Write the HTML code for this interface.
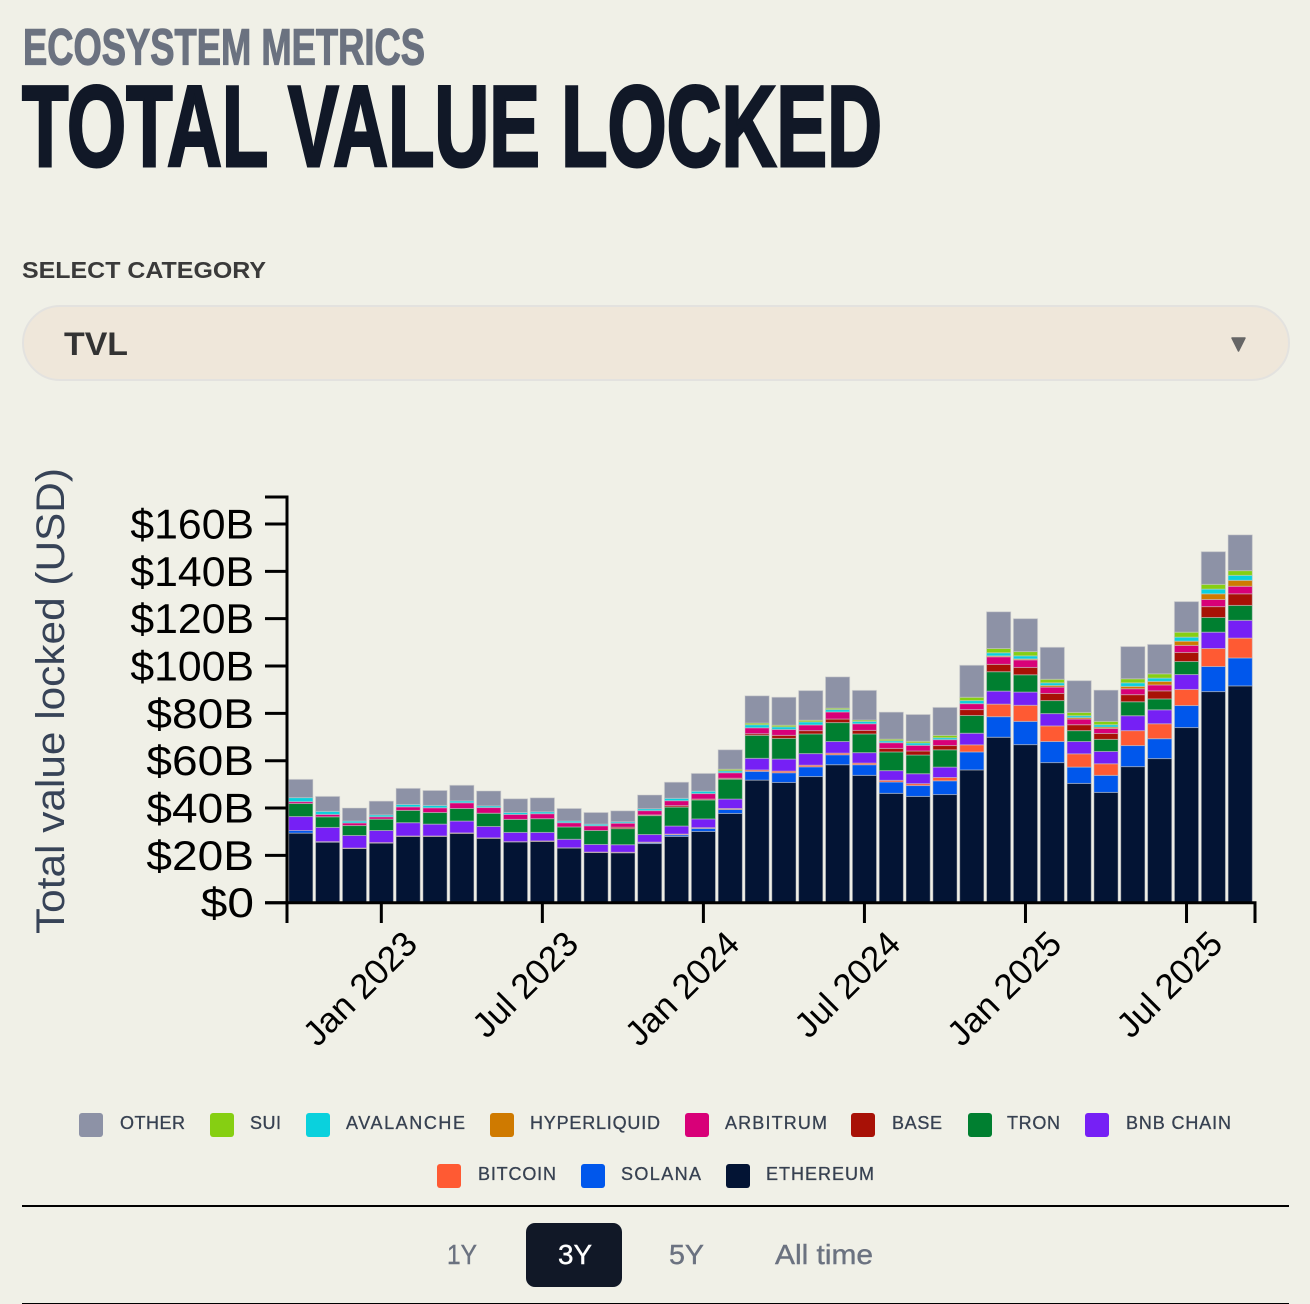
<!DOCTYPE html>
<html lang="en">
<head>
<meta charset="utf-8">
<title>Total Value Locked</title>
<style>
html,body{margin:0;padding:0;background:#f0f0e7;}
body{width:1310px;height:1304px;overflow:hidden;font-family:"Liberation Sans",sans-serif;}
svg{display:block;font-family:"Liberation Sans",sans-serif;}
.legend-label{font-size:18px;fill:#374151;stroke:#374151;stroke-width:.3px;}
.range{font-size:28px;fill:#6b7280;stroke:#6b7280;stroke-width:.4px;}
</style>
</head>
<body>
<svg id="page" width="1310" height="1304" viewBox="0 0 1310 1304" xmlns="http://www.w3.org/2000/svg">
  <text x="23" y="64.5" font-size="51" font-weight="700" fill="#6b7280" stroke="#6b7280" stroke-width="1.2" textLength="402" lengthAdjust="spacingAndGlyphs">ECOSYSTEM METRICS</text>
  <text x="22" y="166" font-size="115" font-weight="700" fill="#111827" stroke="#111827" stroke-width="3" textLength="860" lengthAdjust="spacingAndGlyphs">TOTAL VALUE LOCKED</text>

  <text x="22" y="278" font-size="23" font-weight="700" fill="#3a3a3a" textLength="244" lengthAdjust="spacingAndGlyphs">SELECT CATEGORY</text>
  <g>
    <rect x="23" y="306" width="1266" height="74" rx="37" ry="37" fill="#efe7da" stroke="#e3e2df" stroke-width="2"/>
    <text x="64" y="355" font-size="32" font-weight="700" fill="#333333" textLength="64" lengthAdjust="spacingAndGlyphs">TVL</text>
    <path d="M1232 338 H1245 L1238.5 351 Z" fill="#666666" stroke="#666666" stroke-width="1.5" stroke-linejoin="round"/>
  </g>

  <g id="chart"></g>
  <text transform="translate(64,934) rotate(-90)" font-size="40" fill="#374357" textLength="466" lengthAdjust="spacingAndGlyphs">Total value locked (USD)</text>

  <g>
    <g><rect x="79" y="1113" width="24" height="24" rx="3" fill="#8d92a6"/><text class="legend-label" x="120" y="1129" textLength="65" lengthAdjust="spacing">OTHER</text></g>
    <g><rect x="210" y="1113" width="24" height="24" rx="3" fill="#86cf12"/><text class="legend-label" x="250" y="1129" textLength="31" lengthAdjust="spacing">SUI</text></g>
    <g><rect x="306" y="1113" width="24" height="24" rx="3" fill="#0ad1dd"/><text class="legend-label" x="346" y="1129" textLength="119" lengthAdjust="spacing">AVALANCHE</text></g>
    <g><rect x="490" y="1113" width="24" height="24" rx="3" fill="#cf7a00"/><text class="legend-label" x="530" y="1129" textLength="130" lengthAdjust="spacing">HYPERLIQUID</text></g>
    <g><rect x="685" y="1113" width="24" height="24" rx="3" fill="#d80078"/><text class="legend-label" x="725" y="1129" textLength="102" lengthAdjust="spacing">ARBITRUM</text></g>
    <g><rect x="851" y="1113" width="24" height="24" rx="3" fill="#a81106"/><text class="legend-label" x="892" y="1129" textLength="50" lengthAdjust="spacing">BASE</text></g>
    <g><rect x="968" y="1113" width="24" height="24" rx="3" fill="#007f30"/><text class="legend-label" x="1007" y="1129" textLength="53" lengthAdjust="spacing">TRON</text></g>
    <g><rect x="1085" y="1113" width="24" height="24" rx="3" fill="#7620f5"/><text class="legend-label" x="1126" y="1129" textLength="105" lengthAdjust="spacing">BNB CHAIN</text></g>
    <g><rect x="437" y="1164" width="24" height="24" rx="3" fill="#ff5a33"/><text class="legend-label" x="478" y="1180" textLength="78" lengthAdjust="spacing">BITCOIN</text></g>
    <g><rect x="581" y="1164" width="24" height="24" rx="3" fill="#0057ec"/><text class="legend-label" x="621" y="1180" textLength="80" lengthAdjust="spacing">SOLANA</text></g>
    <g><rect x="726" y="1164" width="24" height="24" rx="3" fill="#031434"/><text class="legend-label" x="766" y="1180" textLength="108" lengthAdjust="spacing">ETHEREUM</text></g>
  </g>

  <rect x="22" y="1205" width="1267" height="2" fill="#000000"/>
  <g>
    <text class="range" x="447" y="1264" textLength="30" lengthAdjust="spacingAndGlyphs">1Y</text>
    <rect x="526" y="1223" width="96" height="64" rx="9" fill="#111827"/>
    <text class="range" style="fill:#ffffff;stroke:#ffffff" x="558" y="1264" textLength="34" lengthAdjust="spacingAndGlyphs">3Y</text>
    <text class="range" x="669" y="1264" textLength="35" lengthAdjust="spacingAndGlyphs">5Y</text>
    <text class="range" x="775" y="1264" textLength="98" lengthAdjust="spacingAndGlyphs">All time</text>
  </g>
  <rect x="22" y="1303" width="1267" height="1" fill="#000000"/>
</svg>
<script>
const categories = ["2022-10","2022-11","2022-12","2023-01","2023-02","2023-03","2023-04","2023-05","2023-06","2023-07","2023-08","2023-09","2023-10","2023-11","2023-12","2024-01","2024-02","2024-03","2024-04","2024-05","2024-06","2024-07","2024-08","2024-09","2024-10","2024-11","2024-12","2025-01","2025-02","2025-03","2025-04","2025-05","2025-06","2025-07","2025-08","2025-09"];
const ethereum = [29.4,25.6,22.9,25.2,28.0,28.0,29.3,27.2,25.7,25.9,23.1,21.2,21.1,25.0,28.0,30.1,37.7,51.8,50.8,53.3,58.3,53.8,46.2,44.9,45.7,56.1,69.9,66.8,59.2,50.4,46.6,57.5,60.9,74.0,89.2,91.6];
const solana = [1.1,0.1,0,0,0,0,0,0,0,0,0,0,0,0.4,0.7,1.3,1.7,3.7,4.1,4.1,4.2,4.5,4.8,4.6,5.8,7.6,8.7,9.8,8.9,6.9,7.2,8.9,8.4,9.3,10.6,11.8];
const bitcoin = [0,0.1,0.2,0.2,0.2,0.2,0.2,0.2,0.1,0.2,0.1,0.2,0.2,0.2,0.3,0.3,0.4,0.6,0.7,0.7,0.7,0.7,0.7,0.8,1.4,3.0,5.3,6.8,6.6,5.6,4.9,6.3,6.3,6.8,7.6,8.4];
const bnbChain = [5.9,6.0,5.3,5.1,5.6,5.0,5.0,4.8,3.9,3.6,3.6,3.2,3.2,3.2,3.4,3.7,4.0,4.9,5.1,4.9,4.9,4.4,4.1,4.2,4.4,4.9,5.5,5.6,5.2,5.2,5.2,6.3,5.9,6.3,6.9,7.5];
const tron = [5.5,4.5,4.2,4.8,5.2,4.9,5.3,5.6,5.5,5.8,5.2,5.9,6.8,8.0,8.0,8.0,8.4,9.7,8.7,8.3,8.0,7.9,7.9,7.9,7.3,7.5,8.2,7.3,5.5,4.6,5.1,5.9,4.6,5.5,6.2,6.3];
const base = [0,0,0,0,0,0,0,0,0,0,0,0,0.6,0.3,0.6,0.4,0.4,0.7,1.3,1.4,1.5,1.5,1.5,1.7,1.8,2.5,3.1,3.1,3.0,2.5,2.5,3.0,3.4,3.8,4.6,4.9];
const arbitrum = [0.8,1.0,1.1,1.0,1.5,2.0,2.4,2.4,2.1,2.1,1.8,2.0,1.7,1.8,2.1,2.3,2.3,2.5,2.5,2.4,3.0,2.8,2.4,2.4,2.5,2.5,3.2,3.2,2.7,2.4,2.1,2.5,2.5,3.0,3.0,3.2];
const hyperliquid = [0,0,0,0,0,0,0,0,0,0,0,0,0,0,0,0,0,0,0,0,0,0,0,0,0,0,0.4,0.4,0.7,0.6,0.6,1.0,1.5,1.8,2.4,2.5];
const avalanche = [1.7,1.3,0.8,0.8,1.0,1.0,0.8,0.7,0.8,0.8,0.7,0.7,0.6,0.8,1.0,1.0,0.8,1.3,1.1,1.3,1.0,1.0,0.8,1.0,0.8,1.3,1.3,1.3,1.1,0.8,1.0,1.5,1.4,1.7,2.0,2.1];
const sui = [0,0,0,0,0,0,0,0,0,0,0,0,0,0,0,0,0.7,0.7,0.7,0.7,0.6,0.6,0.7,0.7,1.0,1.4,1.8,1.8,1.5,1.4,1.4,1.7,1.8,2.1,2.0,2.0];
const other = [7.7,6.3,5.5,5.8,6.8,6.3,6.6,6.3,5.8,5.9,5.3,4.9,4.6,5.8,6.8,7.5,8.2,11.5,11.8,12.5,13.2,12.5,11.4,11.3,11.8,13.5,15.5,13.9,13.5,13.4,13.2,13.6,12.4,12.9,13.8,15.1];
const seriesNames = ["ethereum","solana","bitcoin","bnb-chain","tron","base","arbitrum","hyperliquid","avalanche","sui","other"];
const seriesValues = [ethereum,solana,bitcoin,bnbChain,tron,base,arbitrum,hyperliquid,avalanche,sui,other];
const seriesColors = ["#031434","#0057ec","#ff5a33","#7620f5","#007f30","#a81106","#d80078","#cf7a00","#0ad1dd","#86cf12","#8d92a6"];
const yTickValues = [0,20,40,60,80,100,120,140,160];
const xTickCategories = ["2023-01","2023-07","2024-01","2024-07","2025-01","2025-07"];
const xTickLabels = ["Jan 2023","Jul 2023","Jan 2024","Jul 2024","Jan 2025","Jul 2025"];

const NS = "http://www.w3.org/2000/svg";
const chart = document.getElementById("chart");
function make(tag, attrs, parent) {
  const el = document.createElementNS(NS, tag);
  for (const k in attrs) el.setAttribute(k, attrs[k]);
  parent.appendChild(el);
  return el;
}
const yZero = 902.7, yPerUnit = (902.7 - 524) / 160;
function yScale(v) { return yZero - v * yPerUnit; }
const barStart = 288.7, barStep = 26.84, barWidth = 24.2;
function xScale(i) { return barStart + barStep * i; }
function xCenter(cat) { return xScale(categories.indexOf(cat)) + barWidth / 2; }
function yLabelText(v) { return v === 0 ? "$0" : "$" + v + "B"; }
function yLabelWidth(text) {
  let w = 0;
  for (const ch of text) w += ch === "1" ? 16 : ch === "$" ? 26 : 27.2;
  return w;
}

const barsGroup = make("g", {}, chart);


categories.forEach(function (cat, i) {
  let total = 0;
  seriesValues.forEach(function (vals, s) {
    const v = vals[i];
    const top = yScale(total + v);
    const bottom = yScale(total);
    const r = make("rect", {x: xScale(i).toFixed(2), y: top.toFixed(2), width: barWidth, height: Math.max(0, bottom - top).toFixed(2), fill: seriesColors[s]}, barsGroup);
    
    
    if (v > 0) {
      r.setAttribute('stroke', 'rgba(205,205,205,0.5)');
      r.setAttribute('stroke-width', '1');
    }
    total += v;
  });
});

const yAxis = make("g", {}, chart);


const yDomain = make("path", {d: "M265 497 H287 V" + yZero + " H265", fill: "none", stroke: "#000", "stroke-width": 3}, yAxis);


yTickValues.forEach(function (v) {
  const y = yScale(v);
  const tick = make("line", {x1: 265, x2: 287, y1: y, y2: y, stroke: "#000", "stroke-width": 3}, yAxis);
  
  
  const text = yLabelText(v);
  const label = make("text", {x: 254, y: y + 14.5, "text-anchor": "end", "font-size": 42, fill: "#000", textLength: yLabelWidth(text), lengthAdjust: "spacingAndGlyphs"}, yAxis);
  
  
  label.textContent = text;
});

const xAxis = make("g", {}, chart);


const xDomain = make("path", {d: "M287 923 V" + yZero + " H1255 V923", fill: "none", stroke: "#000", "stroke-width": 3}, xAxis);


xTickCategories.forEach(function (cat, i) {
  const x = xCenter(cat);
  const tick = make("line", {x1: x, x2: x, y1: yZero, y2: 923, stroke: "#000", "stroke-width": 3}, xAxis);
  
  
  const label = make("text", {transform: "translate(" + (x + 38) + ",946) rotate(-45)", "text-anchor": "end", "font-size": 35, fill: "#000"}, xAxis);
  
  
  label.textContent = xTickLabels[i];
});
</script>
</body>
</html>
